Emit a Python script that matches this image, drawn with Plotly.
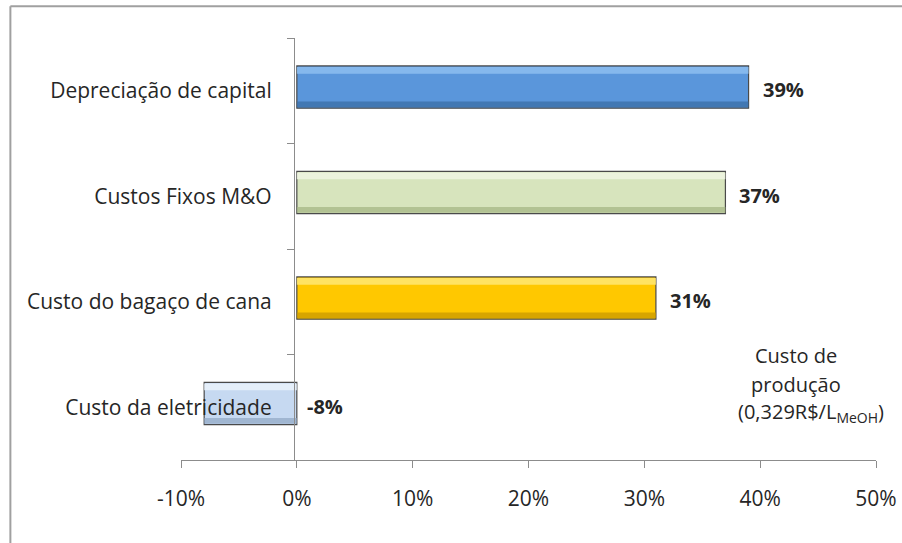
import plotly.graph_objects as go

# Cost components (bottom to top as drawn on the category axis)
categories = [
    "Custo da eletricidade",
    "Custo do bagaço de cana",
    "Custos Fixos M&O",
    "Depreciação de capital",
]
shares = [-8, 31, 37, 39]  # % of production cost
x_ticks = [-10, 0, 10, 20, 30, 40, 50]
x_tick_labels = ["-10%", "0%", "10%", "20%", "30%", "40%", "50%"]
note_lines = ["Custo de", "produção", "(0,329R$/L<sub>MeOH</sub>)"]

# Bar styling: face, top highlight, bottom shade
face = ["#C6D9F1", "#FFC800", "#D7E4BD", "#5A96DB"]
light = ["#EAF2FC", "#FFE873", "#F0F6E3", "#8DBEF0"]
shade = ["#93A9C6", "#C99A00", "#A6B785", "#3B6DA6"]

FONT = "Open Sans"
TXT = "#262626"
SIZE = 21

fig = go.Figure()

fig.add_trace(go.Bar(
    y=categories, x=shares, orientation="h",
    width=0.4, offset=-0.165,
    marker=dict(color=face, line=dict(color="#4A4A4A", width=1.2)),
    hoverinfo="x+y",
))
fig.add_trace(go.Bar(
    y=categories, x=shares, orientation="h",
    width=0.065, offset=0.16,
    marker=dict(color=light, opacity=0.85, line=dict(width=0)),
    hoverinfo="skip",
))
fig.add_trace(go.Bar(
    y=categories, x=shares, orientation="h",
    width=0.055, offset=-0.157,
    marker=dict(color=shade, opacity=0.75, line=dict(width=0)),
    hoverinfo="skip",
))

# Value labels: right of the bar end, or right of zero for negatives
for cat, v in zip(categories, shares):
    fig.add_annotation(
        x=max(v, 0), y=cat, yshift=1,
        text=f"<b>{v}%</b>", showarrow=False,
        xanchor="left", xshift=12 if v >= 0 else 8,
        font=dict(family=FONT, size=SIZE - 1, color=TXT),
    )

# Production cost note
note_x = [43.1, 43.1, 44.4]
for i, line in enumerate(note_lines):
    fig.add_annotation(
        x=note_x[i], y=0.247 - i * 0.067, xref="x", yref="paper",
        text=line, showarrow=False, xanchor="center", yanchor="middle",
        font=dict(family=FONT, size=SIZE - 1, color=TXT),
    )

# Chart frame (left and top edges)
fig.add_shape(type="line", xref="paper", yref="paper",
              x0=-0.2455, x1=-0.2455, y0=1.075, y1=-0.25,
              line=dict(color="#A0A0A0", width=2))
fig.add_shape(type="line", xref="paper", yref="paper",
              x0=-0.2455, x1=1.05, y0=1.075, y1=1.075,
              line=dict(color="#A0A0A0", width=2))

fig.update_layout(
    width=902, height=543,
    margin=dict(l=181, r=26, t=38, b=83, autoexpand=False),
    paper_bgcolor="white", plot_bgcolor="white",
    barmode="overlay", bargap=0.6,
    showlegend=False,
    font=dict(family=FONT, size=SIZE, color=TXT),
)
fig.update_xaxes(
    range=[-10, 50], tickvals=x_ticks, ticktext=x_tick_labels,
    showgrid=False, zeroline=False, automargin=False,
    showline=True, linecolor="#8C8C8C", linewidth=1.2,
    ticks="outside", ticklen=7, tickcolor="#8C8C8C",
    tickfont=dict(family=FONT, size=SIZE, color=TXT),
    ticklabelstandoff=13,
    anchor="y", position=0,
)
fig.update_yaxes(
    categoryorder="array", categoryarray=categories,
    range=[-0.5, 3.5], tickson="boundaries",
    showgrid=False, zeroline=False, automargin=False,
    showline=True, linecolor="#8C8C8C", linewidth=1.2,
    ticks="outside", ticklen=7, tickcolor="#8C8C8C",
    tickfont=dict(family=FONT, size=SIZE, color=TXT),
    anchor="free", position=(294 - 181) / 695,
    ticklabelstandoff=18,
)

fig.write_html("out.html")
